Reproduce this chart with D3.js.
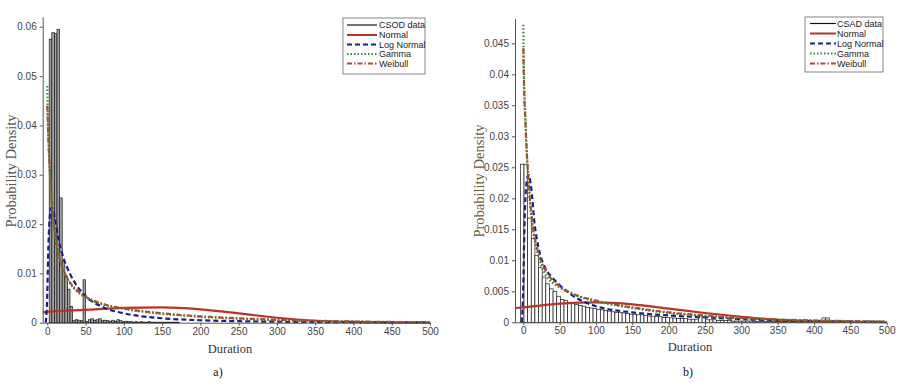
<!DOCTYPE html>
<html><head><meta charset="utf-8">
<script src="https://cdn.jsdelivr.net/npm/d3@7"></script>
<style>body{margin:0;background:#fff}</style>
</head><body><svg id="c" width="903" height="386"></svg>
<script>
// ---------- DATA ----------
const xTicks = [0,50,100,150,200,250,300,350,400,450,500];
const yTicksA = [0,0.01,0.02,0.03,0.04,0.05,0.06];
const yTickLabelsA = ["0","0.01","0.02","0.03","0.04","0.05","0.06"];
const yTicksB = [0,0.005,0.01,0.015,0.02,0.025,0.03,0.035,0.04,0.045];
const yTickLabelsB = ["0","0.005","0.01","0.015","0.02","0.025","0.03","0.035","0.04","0.045"];
const legendA = ["CSOD data","Normal","Log Normal","Gamma","Weibull"];
const legendB = ["CSAD data","Normal","Log Normal","Gamma","Weibull"];

// histogram (a): bins start 2.5, width 3.4
const histStartA = 2.5, histWidthA = 3.4;
const histA = [0.0575,0.0588,0.0586,0.0595,0.0253,0.0125,0.0095,0.0068,0.0033,0.0004,
  0.0006,0.0005,0.0004,0.0087,0.0002,0.0006,0.0008,0.0005,0.0006,0.0008,
  0.0004,0.0005,0.0004,0.0003,0.0005,0.0003,0.0006,0.0004,0.0002,0.0003,
  0.0002,0.0002,0.0001,0.0002,0.0001,0.0002,0.0001,0.0001,0.0002,0.0001,
  0.0001,0.0001,0.0001,0.0001,0.0001,0.0001,0.0001,0.0001,0.0001,0.0001];

// histogram (b): bins start -4, width 5
const histStartB = -4, histWidthB = 5;
const histB = [0.0255,0.0255,0.0168,0.0135,0.0108,0.0088,0.0073,0.0062,0.0054,0.0050,
  0.0042,0.0037,0.0035,0.0032,0.0030,0.0029,0.0027,0.0026,0.0024,0.0023,
  0.0022,0.0021,0.0020,0.0019,0.0018,0.0017,0.0016,0.0016,0.0015,0.0014,
  0.0013,0.0013,0.0012,0.0012,0.0011,0.0010,0.0010,0.0009,0.0009,0.0008,
  0.0008,0.0007,0.0007,0.0006,0.0006,0.0006,0.0005,0.0005,0.0005,0.0012,
  0.0009,0.0004,0.0004,0.0004,0.0003,0.0003,0.0003,0.0003,0.0002,0.0002,
  0.0002,0.0002,0.0002,0.0002,0.0001,0.0001,0.0001,0.0001,0.0001,0.0001,
  0.0001,0.0001,0.0001,0.0001,0.0001,0.0001,0.0001,0.0001,0.0001,0.0001,
  0.0001,0.0001,0.0001,0.0007,0.0007,0.0001,0.0001,0.0001,0.0001,0.0001,
  0.0002,0.0001,0.0001,0.0001,0.0001,0.0001];

// fitted curves (a)
const normalAx = [-6,0,50,100,150,200,250,300,350,400,450,500];
const normalAy = [0.0021,0.0022,0.0026,0.0030,0.0031,0.0027,0.0019,0.0010,0.0004,0.00015,0.00005,0.00001];
const lognAx = [-2,0,1,2,3,5,7,10,15,20,30,40,50,75,100,150,200,250,300,350,400,450,500];
const lognAy = [0,0.006,0.013,0.018,0.021,0.0232,0.0232,0.021,0.0167,0.0137,0.0098,0.0072,0.0054,0.003,0.0019,0.0009,0.0005,0.0003,0.0002,0.00013,0.00009,0.00006,0.00004];
const gammaAx = [0,1,2,5,10,15,20,30,40,50,75,100,150,200,250,300,350,400,450,500];
const gammaAy = [0.048,0.040,0.035,0.026,0.0175,0.0135,0.011,0.0079,0.0062,0.0051,0.0036,0.0028,0.0018,0.0012,0.0008,0.0005,0.0003,0.0002,0.0001,0.00007];
const weibAx = [0,2,5,10,15,20,30,40,50,75,100,150,200,250,300,350,400,450,500];
const weibAy = [0.044,0.035,0.027,0.018,0.014,0.0112,0.0081,0.0064,0.0053,0.0037,0.0029,0.0019,0.0013,0.0009,0.0006,0.0004,0.00025,0.00015,0.0001];

// fitted curves (b)
const normalBx = [-11,0,50,100,150,200,250,300,350,400,450,500];
const normalBy = [0.0023,0.0024,0.0030,0.0032,0.0029,0.0022,0.0015,0.0009,0.0004,0.00015,0.00005,0.00001];
const lognBx = [-2,0,1,2,4,7,10,12,15,21,30,40,50,75,100,150,200,250,300,350,400,450,500];
const lognBy = [0,0.006,0.012,0.017,0.022,0.0238,0.0225,0.0205,0.0165,0.012,0.0088,0.0072,0.006,0.0038,0.0026,0.0016,0.0011,0.0008,0.0005,0.0003,0.0002,0.00012,0.00008];
const gammaBx = [0,1,3,5,7.5,12,19,30,40,50,75,100,150,200,250,300,350,400,450,500];
const gammaBy = [0.048,0.040,0.033,0.027,0.0222,0.016,0.0115,0.0078,0.0064,0.0056,0.0042,0.0034,0.0023,0.0015,0.0010,0.0006,0.0004,0.00025,0.00015,0.0001];
const weibBx = [0,1,3,5,7.5,12,19,30,40,50,75,100,150,200,250,300,350,400,450,500];
const weibBy = [0.0442,0.038,0.032,0.027,0.0225,0.0165,0.012,0.0085,0.0068,0.0058,0.0043,0.0035,0.0024,0.0016,0.0011,0.0007,0.00045,0.0003,0.0002,0.00012];

// ---------- DRAW ----------
const svg = d3.select("#c");
const styles = [
  {color:"#111", dash:null, w:1.3},
  {color:"#b8322a", dash:null, w:2.2},
  {color:"#1c1f8a", dash:"5,3", w:2.2},
  {color:"#2f8f2f", dash:"1.5,2", w:2.2},
  {color:"#a0522d", dash:"5,2,1.5,2", w:2.2}
];

function panel(cfg){
  const g = svg.append("g");
  const x = d3.scaleLinear().domain(cfg.xDomain).range(cfg.xRange);
  const y = d3.scaleLinear().domain(cfg.yDomain).range(cfg.yRange);

  // histogram
  g.append("g").selectAll("rect").data(cfg.hist).join("rect")
    .attr("x", (d,i)=>x(cfg.hStart + i*cfg.hWidth))
    .attr("width", (d,i)=>x(cfg.hStart+(i+1)*cfg.hWidth)-x(cfg.hStart+i*cfg.hWidth))
    .attr("y", d=>y(d))
    .attr("height", d=>y(0)-y(d))
    .attr("fill", cfg.hFill)
    .attr("stroke", "#1a1a1a")
    .attr("stroke-width", 0.7);

  // curves
  cfg.curves.forEach((c,k)=>{
    const s = styles[k+1];
    const pts = c[0].map((v,i)=>[v,c[1][i]]);
    g.append("path")
      .attr("d", d3.line().x(d=>x(d[0])).y(d=>y(d[1])).curve(d3.curveMonotoneX)(pts))
      .attr("fill","none").attr("stroke",s.color).attr("stroke-width",s.w)
      .attr("stroke-dasharray", s.dash);
  });

  // axes
  const xa = g.append("g").attr("transform",`translate(0,${cfg.yRange[0]})`)
    .call(d3.axisBottom(x).tickValues(xTicks).tickSize(3).tickSizeOuter(0).tickFormat(d3.format("d")));
  const ya = g.append("g").attr("transform",`translate(${cfg.xRange[0]},0)`)
    .call(d3.axisLeft(y).tickValues(cfg.yTicks).tickSize(3).tickSizeOuter(0).tickFormat((d,i)=>cfg.yLabels[i]));
  [xa,ya].forEach(a=>{
    a.selectAll("path").attr("stroke","#555");
    a.selectAll("line").attr("stroke","#555");
    a.selectAll("text").attr("fill","#444").style("font-family","'Liberation Sans', Arial, sans-serif").style("font-size","10px");
  });
  xa.selectAll("text").attr("y",5).attr("dy","0.71em");

  // labels
  g.append("text").attr("x",cfg.xLab[0]).attr("y",cfg.xLab[1]).attr("text-anchor","middle")
    .style("font-family","'Liberation Serif', 'Times New Roman', serif").style("font-size","12.5px").attr("fill","#333").text("Duration");
  g.append("text").attr("transform",`translate(${cfg.yLab[0]},${cfg.yLab[1]}) rotate(-90)`).attr("text-anchor","middle")
    .style("font-family","'Liberation Serif', 'Times New Roman', serif").style("font-size","14.5px").attr("fill",cfg.yLabColor).text("Probability Density");
  g.append("text").attr("x",cfg.cap[0]).attr("y",cfg.cap[1]).attr("text-anchor","middle")
    .style("font-family","'Liberation Serif', 'Times New Roman', serif").style("font-size","12px").attr("fill","#111").text(cfg.capText);

  // legend
  const L = cfg.legend;
  g.append("rect").attr("x",L.x).attr("y",L.y).attr("width",L.w).attr("height",L.h)
    .attr("fill","#fff").attr("stroke","#666").attr("stroke-width",0.8);
  cfg.legendText.forEach((t,i)=>{
    const s = styles[i];
    const yy = L.rows[i];
    g.append("line").attr("x1",L.lx0).attr("x2",L.lx1).attr("y1",yy).attr("y2",yy)
      .attr("stroke",s.color).attr("stroke-width",s.w*0.9).attr("stroke-dasharray",s.dash);
    g.append("text").attr("x",L.tx).attr("y",yy).attr("dy","0.35em")
      .style("font-family","'Liberation Sans', Arial, sans-serif").style("font-size","9px").attr("fill","#222").text(t);
  });
}

panel({
  xDomain:[-6,500], xRange:[42.7,430], yDomain:[0,0.062], yRange:[322.7,16.9],
  hist:histA, hStart:histStartA, hWidth:histWidthA, hFill:"#a0a0a0",
  curves:[[normalAx,normalAy],[lognAx,lognAy],[gammaAx,gammaAy],[weibAx,weibAy]],
  yTicks:yTicksA, yLabels:yTickLabelsA,
  xLab:[230,353], yLab:[16,171], yLabColor:"#555", cap:[218,376], capText:"a)",
  legendText:legendA,
  legend:{x:343,y:18,w:82,h:56,rows:[25,35,44.5,54,63.5],lx0:347,lx1:377,tx:379}
});
panel({
  xDomain:[-11.4,500], xRange:[515,886.7], yDomain:[0,0.049], yRange:[322.3,18.5],
  hist:histB, hStart:histStartB, hWidth:histWidthB, hFill:"#fff",
  curves:[[normalBx,normalBy],[lognBx,lognBy],[gammaBx,gammaBy],[weibBx,weibBy]],
  yTicks:yTicksB, yLabels:yTickLabelsB,
  xLab:[690,351], yLab:[484,181], yLabColor:"#6b5a40", cap:[688,376], capText:"b)",
  legendText:legendB,
  legend:{x:805,y:17,w:78,h:55,rows:[23.5,33.5,43.5,53.5,63.5],lx0:810,lx1:836,tx:837}
});
</script></body></html>
